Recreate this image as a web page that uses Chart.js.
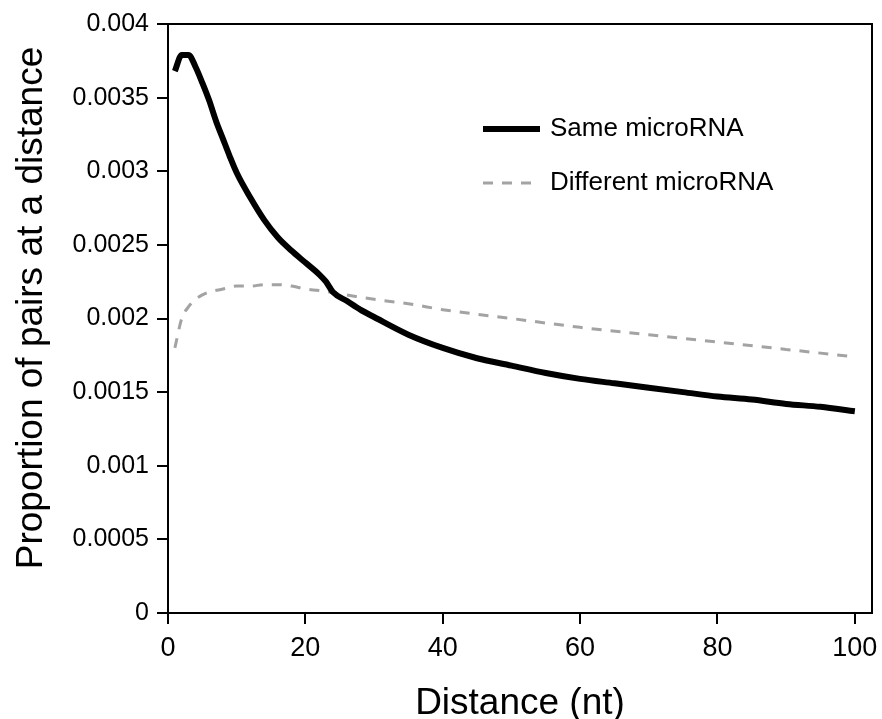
<!DOCTYPE html>
<html lang="en">
<head>
<meta charset="UTF-8">
<title>Proportion of pairs at a distance</title>
<script src="https://cdn.jsdelivr.net/npm/chart.js"></script>
<style>
  body { margin: 0; background: #fff; }
  #wrap { width: 882px; height: 719px; }
</style>
</head>
<body>
<div id="wrap"><canvas id="distChart"></canvas></div>
<script>
// values
const sameX = [1, 2, 3, 4, 5, 6, 7, 8, 9, 10, 12, 14, 16, 18, 20, 22, 23, 24, 26, 28, 30, 35, 40, 45, 50, 55, 60, 65, 70, 75, 80, 85, 90, 95, 100];
const sameY = [0.00368, 0.00379, 0.00379, 0.00371, 0.00360, 0.00348, 0.00334, 0.00322, 0.00310, 0.00299, 0.00282, 0.00267, 0.00255, 0.00246, 0.00238, 0.00230, 0.00225, 0.00218, 0.00212, 0.00206, 0.00201, 0.00189, 0.00180, 0.00173, 0.00168, 0.00163, 0.00159, 0.00156, 0.00153, 0.00150, 0.00147, 0.00145, 0.00142, 0.00140, 0.00137];
const diffX = [1, 2, 3, 4, 5, 6, 8, 10, 12, 14, 16, 18, 20, 22, 26, 30, 35, 40, 50, 60, 70, 80, 90, 100];
const diffY = [0.00180, 0.00200, 0.00208, 0.00213, 0.00216, 0.00218, 0.00220, 0.00222, 0.00222, 0.00223, 0.00223, 0.00222, 0.00220, 0.00219, 0.00216, 0.00213, 0.00210, 0.00206, 0.00200, 0.00194, 0.00189, 0.00184, 0.00179, 0.00174];

const xTicks = [0, 20, 40, 60, 80, 100];
const yTicks = [0, 0.0005, 0.001, 0.0015, 0.002, 0.0025, 0.003, 0.0035, 0.004];
const yTickLabels = ['0', '0.0005', '0.001', '0.0015', '0.002', '0.0025', '0.003', '0.0035', '0.004'];

const FONT = "'Liberation Sans', Arial, sans-serif";

function toPoints(xs, ys) {
  return xs.map((x, i) => ({ x: x, y: ys[i] }));
}

// box around the plot + axis titles + legend inside the plot
const decor = {
  id: 'decor',
  afterDraw(chart) {
    const ctx = chart.ctx;
    const a = chart.chartArea;
    ctx.save();
    ctx.strokeStyle = '#000';
    ctx.lineWidth = 2;
    ctx.strokeRect(a.left, a.top, a.right - a.left, a.bottom - a.top);

    ctx.fillStyle = '#000';
    ctx.font = '37px ' + FONT;
    ctx.textAlign = 'center';
    ctx.textBaseline = 'alphabetic';
    ctx.fillText('Distance (nt)', (a.left + a.right) / 2, 714);

    ctx.save();
    ctx.translate(42, 308);
    ctx.rotate(-Math.PI / 2);
    ctx.fillText('Proportion of pairs at a distance', 0, 0);
    ctx.restore();

    ctx.font = '26px ' + FONT;
    ctx.textAlign = 'left';
    ctx.textBaseline = 'middle';
    chart.data.datasets.forEach((ds, i) => {
      const y = a.top + 105 + i * 54;
      ctx.beginPath();
      ctx.strokeStyle = ds.borderColor;
      ctx.lineWidth = ds.borderWidth;
      ctx.setLineDash(ds.borderDash || []);
      ctx.moveTo(a.left + 315, y);
      ctx.lineTo(a.left + 372, y);
      ctx.stroke();
      ctx.setLineDash([]);
      ctx.fillText(ds.label, a.left + 382, y);
    });
    ctx.restore();
  }
};

const ctx = document.getElementById('distChart').getContext('2d');
new Chart(ctx, {
  type: 'line',
  data: {
    datasets: [
      {
        label: 'Same microRNA',
        data: toPoints(sameX, sameY),
        borderColor: '#000',
        borderWidth: 6,
        pointRadius: 0,
        cubicInterpolationMode: 'monotone',
        fill: false
      },
      {
        label: 'Different microRNA',
        data: toPoints(diffX, diffY),
        borderColor: '#a3a3a3',
        borderWidth: 3,
        borderDash: [10, 9],
        pointRadius: 0,
        cubicInterpolationMode: 'monotone',
        fill: false
      }
    ]
  },
  options: {
    responsive: true,
    maintainAspectRatio: false,
    animation: false,
    layout: { padding: { top: 24, right: 10, left: 0, bottom: 0 } },
    plugins: {
      legend: { display: false },
      tooltip: { enabled: false }
    },
    scales: {
      x: {
        type: 'linear',
        min: 0,
        max: 102.5,
        afterBuildTicks: s => { s.ticks = xTicks.map(v => ({ value: v })); },
        afterFit: s => { s.height = 106; s.paddingLeft = 0; s.paddingRight = 0; },
        border: { color: '#000', width: 2 },
        grid: { drawOnChartArea: false, tickLength: 11, color: '#000', lineWidth: 2 },
        ticks: { color: '#000', padding: 8, maxRotation: 0, font: { family: FONT, size: 27 } }
      },
      y: {
        min: 0,
        max: 0.004,
        afterBuildTicks: s => { s.ticks = yTicks.map(v => ({ value: v })); },
        afterFit: s => { s.width = 168; s.paddingTop = 0; s.paddingBottom = 0; },
        border: { color: '#000', width: 2 },
        grid: { drawOnChartArea: false, tickLength: 11, color: '#000', lineWidth: 2 },
        ticks: {
          color: '#000',
          padding: 8,
          font: { family: FONT, size: 25 },
          callback: (v, i) => yTickLabels[i]
        }
      }
    }
  },
  plugins: [decor]
});
</script>
</body>
</html>
